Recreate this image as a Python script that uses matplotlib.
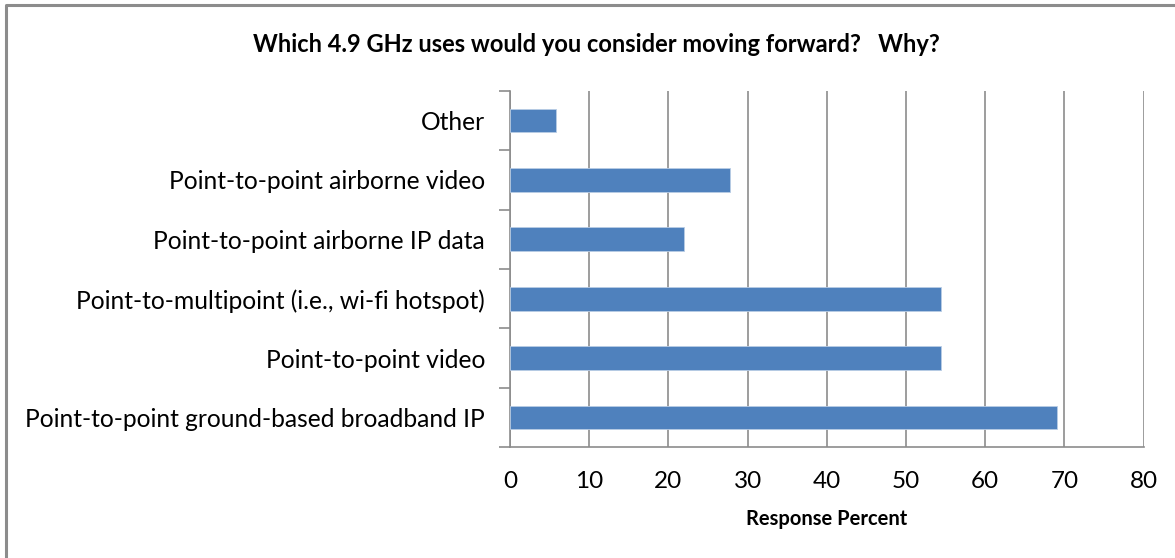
import matplotlib.pyplot as plt
from matplotlib.lines import Line2D

# survey data
categories = [
    "Point-to-point ground-based broadband IP",
    "Point-to-point video",
    "Point-to-multipoint (i.e., wi-fi hotspot)",
    "Point-to-point airborne IP data",
    "Point-to-point airborne video",
    "Other",
]
percent = [69.1, 54.4, 54.4, 22.0, 27.8, 5.8]
xticks = [0, 10, 20, 30, 40, 50, 60, 70, 80]

plt.rcParams['font.family'] = ['Lato', 'DejaVu Sans']

W, H = 1175, 558
fig = plt.figure(figsize=(W / 100, H / 100), dpi=100)
ax = fig.add_axes([510 / W, 1 - 447.3 / H, (1143.7 - 510) / W, (447.3 - 90.7) / H])

ax.barh(range(len(categories)), percent, height=0.4, color='#4f81bd',
        edgecolor='#b9cde5', linewidth=0.6, zorder=3)

ax.set_xlim(0, 80)
ax.set_ylim(-0.5, len(categories) - 0.5)
ax.set_xticks(xticks)
ax.set_xticklabels([str(t) for t in xticks], fontsize=17.5)
ax.set_yticks(range(len(categories)))
ax.set_yticklabels(categories, fontsize=17.7)
ax.tick_params(axis='y', length=0, pad=18)
ax.tick_params(axis='x', length=0, pad=17)

# category separators as small ticks on the y axis
ax.set_yticks([i - 0.5 for i in range(len(categories) + 1)], minor=True)
ax.tick_params(axis='y', which='minor', length=8, color='#8c8c8c', width=1.2)
# x ticks below the axis
ax.set_xticks(xticks, minor=True)
ax.tick_params(axis='x', which='minor', length=9, color='#8c8c8c', width=1.2, direction='out')

ax.grid(axis='x', color='#8c8c8c', linewidth=1.2, zorder=0)
for s in ['top', 'right']:
    ax.spines[s].set_visible(False)
for s in ['left', 'bottom']:
    ax.spines[s].set_color('#8c8c8c')
    ax.spines[s].set_linewidth(1.2)

ax.set_xlabel('Response Percent', fontsize=14.5, fontweight='bold', labelpad=12)
fig.text(596 / W, 1 - 45 / H, 'Which 4.9 GHz uses would you consider moving forward?   Why?',
         ha='center', va='center', fontsize=17, fontweight='bold')

# chart border (only top and left edges are visible in the crop)
fig.lines.append(Line2D([6 / W, 6 / W, 1], [0, 1 - 5 / H, 1 - 5 / H], transform=fig.transFigure,
                        color='#8c8c8c', linewidth=2.2))

fig.savefig('out.png', dpi=100)
